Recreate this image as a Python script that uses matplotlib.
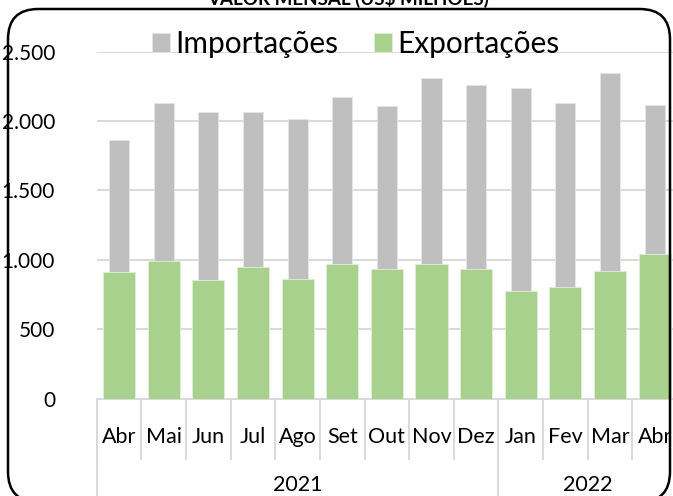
import matplotlib.pyplot as plt
from matplotlib.patches import FancyBboxPatch
from matplotlib.transforms import blended_transform_factory
import numpy as np

plt.rcParams['font.family'] = ['Lato', 'DejaVu Sans']

MONTHS = ["Abr", "Mai", "Jun", "Jul", "Ago", "Set", "Out", "Nov", "Dez",
          "Jan", "Fev", "Mar", "Abr"]
YEARS = ["2021", "2022"]
YEAR_SPAN = [9, 4]  # months per year group

importacoes = [1863, 2130, 2065, 2069, 2014, 2175, 2108, 2314, 2257, 2238, 2134, 2343, 2113]
exportacoes = [913, 991, 858, 950, 861, 971, 937, 973, 933, 779, 805, 923, 1041]

GREY = '#bfbfbf'
GREEN = '#a9d18e'
GRID = '#d9d9d9'

W, H = 673, 496
fig = plt.figure(figsize=(W / 100, H / 100), dpi=100)
fig.patch.set_facecolor('white')

# plot area in pixels: x 96.7..677, y 51.7..398.7
ax = fig.add_axes([96.7 / W, 1 - 398.7 / H, 580.3 / W, 347 / H])
x = np.arange(len(MONTHS))

ax.bar(x, importacoes, width=0.45, color=GREY, edgecolor='#e6e6e6', linewidth=0.6,
       label='Importações', zorder=2)
ax.bar(x, exportacoes, width=0.72, color=GREEN, edgecolor='#e2efd9', linewidth=0.6,
       label='Exportações', zorder=3)

ax.set_xlim(-0.5, len(MONTHS) - 0.5)
ax.set_ylim(0, 2500)
ax.set_yticks(np.arange(0, 2501, 500))
ax.set_yticklabels(['0', '500', '1.000', '1.500', '2.000', '2.500'], fontsize=15)
ax.tick_params(axis='y', length=0, pad=30, labelcolor='black')
ax.set_xticks([])
ax.grid(axis='y', color=GRID, linewidth=1.4, zorder=0)
ax.set_axisbelow(True)
for s in ['top', 'right', 'left']:
    ax.spines[s].set_visible(False)
ax.spines['bottom'].set_color(GRID)
ax.spines['bottom'].set_linewidth(1.4)

# two-level category axis below the plot
tr = blended_transform_factory(ax.transData, fig.transFigure)
y_axis = 1 - 398.7 / H
y_month_sep = 1 - 459 / H
for i, m in enumerate(MONTHS):
    ax.text(i, 1 - 437 / H, m, transform=tr, ha='center', va='center',
            fontsize=15.5, clip_on=False)
for k in range(len(MONTHS) + 1):
    ax.plot([k - 0.5, k - 0.5], [y_axis, y_month_sep], transform=tr,
            color=GRID, linewidth=1.4, clip_on=False)
start = 0
for yr, span in zip(YEARS, YEAR_SPAN):
    ax.plot([start - 0.5, start - 0.5], [y_axis, 0], transform=tr,
            color=GRID, linewidth=1.4, clip_on=False)
    ax.text(start + (span - 1) / 2, 1 - 485 / H, yr, transform=tr, ha='center',
            va='center', fontsize=15.5, clip_on=False)
    start += span

fig.legend(loc='center', bbox_to_anchor=(356 / W, 1 - 44 / H), ncol=2,
           frameon=False, fontsize=21.5, handlelength=0.58, handleheight=0.58,
           handletextpad=0.2, columnspacing=1.2, borderpad=0)

# rounded chart frame
frame = FancyBboxPatch((8 / W, -6 / H), 662 / W, 496 / H - 9 / H + 6 / H,
                       boxstyle='round,pad=0,rounding_size=0.045',
                       transform=fig.transFigure, fill=False,
                       edgecolor='black', linewidth=1.8, mutation_aspect=W / H)
fig.patches.append(frame)

fig.text(348 / W, 1 - 5 / H, 'VALOR MENSAL (US$ MILHÕES)', ha='center',
         va='baseline', fontsize=13.5, fontweight='bold')

fig.savefig('out.png', dpi=100)
